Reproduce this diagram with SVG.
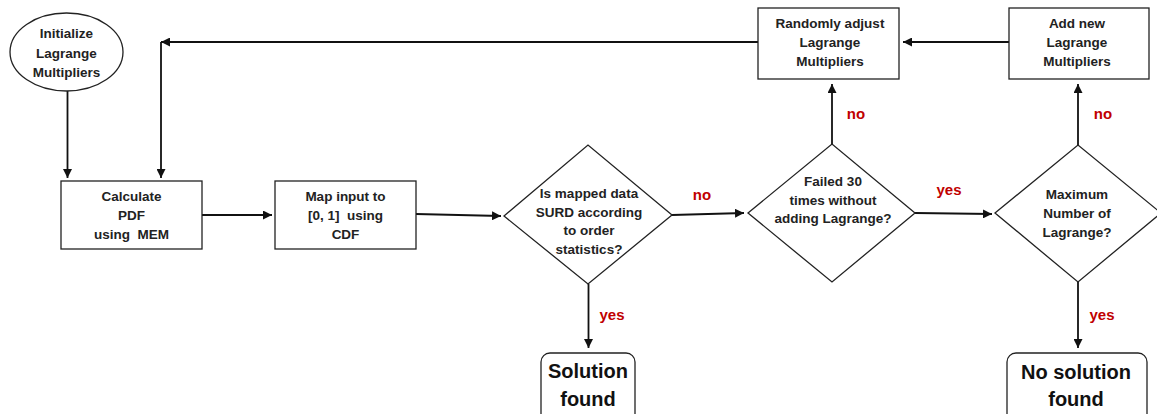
<svg xmlns="http://www.w3.org/2000/svg" width="1157" height="414" viewBox="0 0 1157 414">
<style>
.shape{fill:#fff;stroke:#222;stroke-width:1.3}
.t{font-family:"Liberation Sans",Arial,sans-serif;font-weight:bold;font-size:13.5px;fill:#222;text-anchor:middle}
.big{font-size:20px;fill:#111}
.lbl{font-family:"Liberation Sans",Arial,sans-serif;font-weight:bold;font-size:15px;fill:#c00000;text-anchor:middle}
.c{fill:none;stroke:#111;stroke-width:1.8}
</style>
<defs>
<marker id="ah" viewBox="0 0 10 10" refX="10" refY="5" markerWidth="5" markerHeight="5" orient="auto" markerUnits="strokeWidth">
<path d="M0,0 L10,5 L0,10 z" fill="#111"/>
</marker>
</defs>
<rect width="1157" height="414" fill="#fff"/>
<g id="connectors">
<line class="c" x1="67.5" y1="91" x2="67.5" y2="178" marker-end="url(#ah)"/>
<line class="c" x1="758" y1="42" x2="161" y2="42" marker-end="url(#ah)"/>
<line class="c" x1="161" y1="42" x2="161" y2="178" marker-end="url(#ah)"/>
<line class="c" x1="202" y1="215" x2="272" y2="215" marker-end="url(#ah)"/>
<line class="c" x1="416" y1="214" x2="501" y2="216" marker-end="url(#ah)"/>
<line class="c" x1="672" y1="215" x2="744" y2="213" marker-end="url(#ah)"/>
<line class="c" x1="915" y1="213" x2="992" y2="214" marker-end="url(#ah)"/>
<line class="c" x1="832" y1="144" x2="832" y2="84" marker-end="url(#ah)"/>
<line class="c" x1="1078" y1="145" x2="1078" y2="84" marker-end="url(#ah)"/>
<line class="c" x1="1009" y1="42" x2="903" y2="42" marker-end="url(#ah)"/>
<line class="c" x1="588.5" y1="284" x2="588.5" y2="348" marker-end="url(#ah)"/>
<line class="c" x1="1078" y1="282" x2="1078" y2="348" marker-end="url(#ah)"/>
<text class="lbl" x="702" y="200">no</text>
<text class="lbl" x="949" y="195">yes</text>
<text class="lbl" x="856" y="119">no</text>
<text class="lbl" x="1103" y="119">no</text>
<text class="lbl" x="612" y="320">yes</text>
<text class="lbl" x="1102" y="320">yes</text>
</g>
<g id="init">
<ellipse class="shape" cx="66.5" cy="52" rx="56.5" ry="39"/>
<text class="t" x="66.5" y="38">Initialize</text>
<text class="t" x="66.5" y="57.5">Lagrange</text>
<text class="t" x="66.5" y="77">Multipliers</text>
</g>
<g id="calc">
<rect class="shape" x="61" y="181" width="141" height="68"/>
<text class="t" x="131.5" y="201">Calculate</text>
<text class="t" x="131.5" y="220">PDF</text>
<text class="t" x="131.5" y="239" xml:space="preserve">using  MEM</text>
</g>
<g id="map">
<rect class="shape" x="275" y="181" width="141" height="68"/>
<text class="t" x="345.5" y="201">Map input to</text>
<text class="t" x="345.5" y="220" xml:space="preserve">[0, 1]  using</text>
<text class="t" x="345.5" y="239">CDF</text>
</g>
<g id="surd">
<polygon class="shape" points="504,216 588,145 672,215 588,284"/>
<text class="t" x="589" y="198">Is mapped data</text>
<text class="t" x="589" y="216.5">SURD according</text>
<text class="t" x="589" y="235">to order</text>
<text class="t" x="589" y="253.5">statistics?</text>
</g>
<g id="failed">
<polygon class="shape" points="748,213 832,144 915,213 832,282"/>
<text class="t" x="833" y="186">Failed 30</text>
<text class="t" x="833" y="204.5">times without</text>
<text class="t" x="833" y="223">adding Lagrange?</text>
</g>
<g id="max">
<polygon class="shape" points="995,213 1078,145 1161,213 1078,282"/>
<text class="t" x="1077" y="199">Maximum</text>
<text class="t" x="1077" y="218">Number of</text>
<text class="t" x="1077" y="237">Lagrange?</text>
</g>
<g id="adjust">
<rect class="shape" x="758" y="8" width="141" height="71"/>
<text class="t" x="830" y="28">Randomly adjust</text>
<text class="t" x="830" y="47">Lagrange</text>
<text class="t" x="830" y="66">Multipliers</text>
</g>
<g id="addnew">
<rect class="shape" x="1009" y="8" width="140" height="71"/>
<text class="t" x="1077" y="28">Add new</text>
<text class="t" x="1077" y="47">Lagrange</text>
<text class="t" x="1077" y="66">Multipliers</text>
</g>
<g id="solution">
<rect class="shape" x="541" y="353" width="94" height="70" rx="9"/>
<text class="t big" x="588" y="378">Solution</text>
<text class="t big" x="588" y="406">found</text>
</g>
<g id="nosolution">
<rect class="shape" x="1007" y="353" width="140" height="70" rx="9"/>
<text class="t big" x="1076" y="379">No solution</text>
<text class="t big" x="1076" y="406">found</text>
</g>
</svg>
